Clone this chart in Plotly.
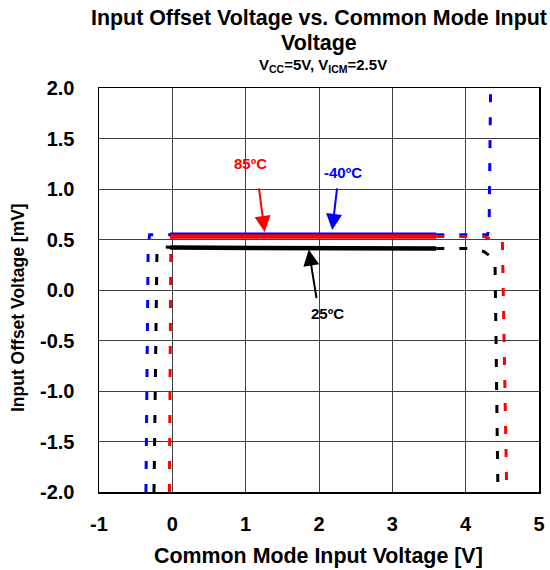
import plotly.graph_objects as go

# ---- data ----
x_ticks = [-1, 0, 1, 2, 3, 4, 5]
y_ticks = [-2.0, -1.5, -1.0, -0.5, 0.0, 0.5, 1.0, 1.5, 2.0]

# -40 C (blue)
m40_left_x = [-0.36, -0.33, -0.31, 0.0]
m40_left_y = [-2.0, 0.40, 0.548, 0.548]
m40_solid_x = [-0.03, 3.6]
m40_solid_y = [0.548, 0.548]
m40_right_x = [3.6, 4.30, 4.32, 4.34]
m40_right_y = [0.548, 0.548, 0.62, 2.0]

# 85 C (red)
t85_left_x = [-0.04, -0.02, 0.0]
t85_left_y = [-2.0, 0.45, 0.530]
t85_solid_x = [-0.03, 3.6]
t85_solid_y = [0.530, 0.530]
t85_right_x = [3.6, 4.25, 4.32, 4.50, 4.56]
t85_right_y = [0.530, 0.530, 0.51, 0.50, -2.0]

# 25 C (black)
t25_left_x = [-0.25, -0.21, -0.19, 0.0]
t25_left_y = [-2.0, 0.36, 0.43, 0.42]
t25_solid_x = [-0.03, 3.6]
t25_solid_y = [0.42, 0.41]
t25_right_x = [3.6, 4.1, 4.25, 4.40, 4.44]
t25_right_y = [0.41, 0.41, 0.38, 0.30, -2.0]

BLUE = "#0000FF"
RED = "#FF0000"
BLACK = "#000000"
DASH = "8px,15px"

fig = go.Figure()

def add(x, y, color, dashed):
    fig.add_trace(go.Scatter(
        x=x, y=y, mode="lines", showlegend=False, hoverinfo="skip",
        line=dict(color=color, width=3 if dashed else 4.5,
                  dash=DASH if dashed else "solid"),
    ))

for (lx, ly, sx, sy, rx, ry, c) in [
    (t25_left_x, t25_left_y, t25_solid_x, t25_solid_y, t25_right_x, t25_right_y, BLACK),
    (m40_left_x, m40_left_y, m40_solid_x, m40_solid_y, m40_right_x, m40_right_y, BLUE),
    (t85_left_x, t85_left_y, t85_solid_x, t85_solid_y, t85_right_x, t85_right_y, RED),
]:
    add(lx, ly, c, True)
    add(rx, ry, c, True)
    add(sx, sy, c, False)

FONT = "Liberation Sans, Arial, sans-serif"

fig.update_layout(
    width=550, height=570,
    margin=dict(l=99, r=11, t=88, b=78, autoexpand=False),
    paper_bgcolor="white", plot_bgcolor="white",
    showlegend=False,
    font=dict(family=FONT, color="black"),
)

# pixel coordinates of the plot area
L, R, T, B = 99, 539, 88, 492
def px2paper_x(px):
    return (px - L) / (R - L)
def px2paper_y(py):
    return (B - py) / (B - T)

def text_ann(text, xpx, ypx, size, color="black", angle=0):
    return dict(text=text, x=px2paper_x(xpx), y=px2paper_y(ypx),
                xref="paper", yref="paper", xanchor="center", yanchor="middle",
                showarrow=False, textangle=angle,
                font=dict(size=size, color=color, family=FONT))

labels = [
    ("85ºC", RED, 1.26, 0.575, -6, -45, 250, 163),
    ("-40ºC", BLUE, 2.18, 0.595, 5, -43, 343, 172),
    ("25ºC", BLACK, 1.86, 0.40, 8, 50, 327, 313),
]

annotations = [
    text_ann("<b>Input Offset Voltage vs. Common Mode Input</b>", 318.5, 18, 21.4),
    text_ann("<b>Voltage</b>", 318.5, 43, 21.4),
    text_ann("<b>V<sub>CC</sub>=5V, V<sub>ICM</sub>=2.5V</b>", 323, 66, 15),
    text_ann("<b>Common Mode Input Voltage [V]</b>", 318, 556, 21.4),
    text_ann("<b>Input Offset Voltage [mV]</b>", 18, 308, 17.5, angle=-90),
]
for text, color, tx, ty, ax, ay, lx_px, ly_px in labels:
    annotations.append(dict(
        x=tx, y=ty, xref="x", yref="y", ax=ax, ay=ay, axref="pixel", ayref="pixel",
        text="", showarrow=True, arrowhead=2, arrowsize=1.6, arrowwidth=2,
        arrowcolor=color, standoff=0))
    annotations.append(text_ann("<b>" + text + "</b>", lx_px, ly_px, 15, color))

fig.update_layout(annotations=annotations)

fig.update_xaxes(
    range=[-1, 5], tickvals=x_ticks, ticktext=[str(v) for v in x_ticks],
    showgrid=True, gridcolor="#404040", gridwidth=1,
    showline=True, linecolor="black", linewidth=1.5, mirror=True,
    zeroline=False, ticks="", ticklabelstandoff=13, automargin=False,
    tickfont=dict(size=20, color="black", family=FONT, weight="bold"),
)
fig.update_yaxes(
    range=[-2, 2], tickvals=y_ticks, ticktext=["%.1f" % v for v in y_ticks],
    showgrid=True, gridcolor="#404040", gridwidth=1,
    showline=True, linecolor="black", linewidth=1.5, mirror=True,
    zeroline=False, ticks="", ticklabelstandoff=19, automargin=False,
    tickfont=dict(size=20, color="black", family=FONT, weight="bold"),
)

# remove the default page margin so the 550x570 figure fills the window exactly
fig.write_html("out.html",
               config={"displayModeBar": False, "staticPlot": True},
               post_script="document.body.style.margin='0';document.body.style.overflow='hidden';")
